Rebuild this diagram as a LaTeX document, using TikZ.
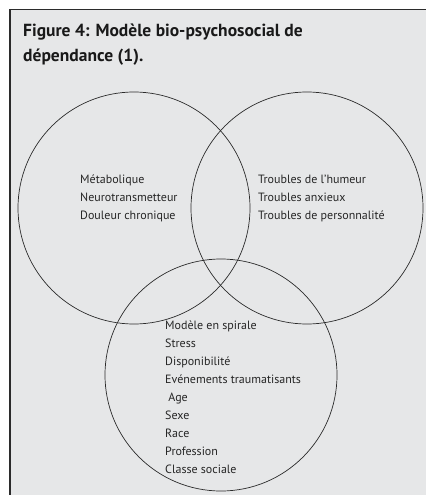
\documentclass[tikz,border=0pt]{standalone}
\usepackage{fontspec}
\setmainfont{PT Sans}
\usetikzlibrary{positioning}
\definecolor{fondgris}{HTML}{E6E7E8}
\definecolor{trait}{HTML}{2B2B2B}

\tikzset{
	cercle/.style={draw=trait, line width=0.7pt, circle, minimum size=232pt, inner sep=0pt},
	liste/.style={anchor=north west, align=left, inner sep=0pt, text=black!85, font=\fontsize{12}{18}\selectfont},
	titre/.style={anchor=north west, align=left, inner sep=0pt, text=black!90, font=\bfseries\fontsize{17.5}{25}\selectfont}
}

\begin{document}
\begin{tikzpicture}[x=1pt, y=-1pt]
	%%%%% CADRE %%%%%
	\useasboundingbox (0, 0) rectangle (426, 495);
	\fill[fondgris] (10, 9.5) rectangle (426, 495);
	\draw[trait, line width=1.6pt] (10, 495) -- (10, 9.5) -- (426, 9.5);
	
	\node[titre] (titre) at (23, 24) {Figure 4: Modèle bio-psychosocial de\\dépendance (1).};
	
	%%%%% CERCLES %%%%%
	\node[cercle] (bio) at (134, 208) {};
	\node[cercle] (psy) at (307, 208) {};
	\node[cercle] (social) at (221, 375) {};
	
	%%%%% TEXTES %%%%%
	\node[liste] (biotexte) at (80, 175) {Métabolique\\Neurotransmetteur\\Douleur chronique};
	\node[liste] (psytexte) at (258, 175) {Troubles de l’humeur\\Troubles anxieux\\Troubles de personnalité};
	\node[liste] (socialtexte) at (165, 321) {Modèle en spirale\\Stress\\Disponibilité\\Evénements traumatisants\\\ Age\\Sexe\\Race\\Profession\\Classe sociale};
	
	%%%%% FIN %%%%%
\end{tikzpicture}
\end{document}
